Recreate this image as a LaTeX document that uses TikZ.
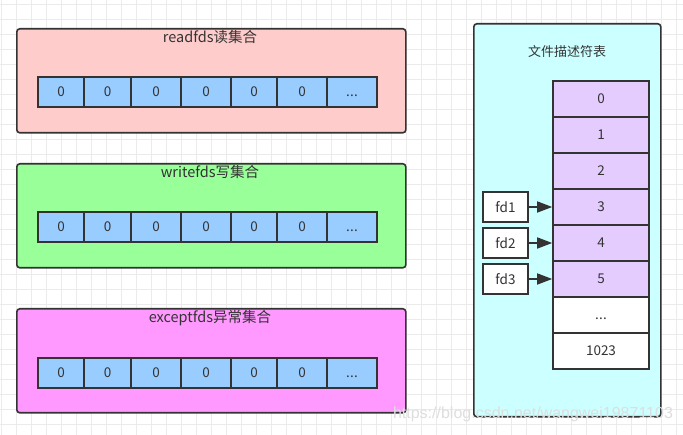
\documentclass[tikz,border=0pt]{standalone}
\usepackage{fontspec}
\setmainfont{Noto Sans CJK SC}
\newfontfamily\marquefont{Liberation Sans}
\usepackage{xcolor}
\usepackage{tikz}
\usetikzlibrary{arrows.meta, positioning}

\definecolor{trait}{HTML}{333333}
\definecolor{grille}{HTML}{EBEBEB}
\definecolor{rose}{HTML}{FFCCCC}
\definecolor{vert}{HTML}{99FF99}
\definecolor{magenta}{HTML}{FF99FF}
\definecolor{cyanpale}{HTML}{CCFFFF}
\definecolor{bleu}{HTML}{99CCFF}
\definecolor{mauve}{HTML}{E5CCFF}

\newcommand{\pts}{\vphantom{0}.\kern0.3pt.\kern0.3pt.}

\tikzset{
  groupe/.style={draw=trait, line width=1.6pt, rounded corners=3pt, inner sep=0pt},
  titre/.style={font=\fontsize{14.5}{16}\selectfont, text=trait},
  bit/.style={draw=trait, line width=1.6pt, fill=bleu, inner sep=0pt, minimum height=30pt},
  ligne/.style={draw=trait, line width=1.6pt, inner sep=0pt, minimum width=96pt, minimum height=36pt},
  fdbox/.style={draw=trait, line width=1.6pt, fill=white, inner sep=0pt, minimum width=45pt, minimum height=30pt},
  fleche/.style={draw=trait, line width=1.6pt, -{Triangle[length=15pt, width=11pt]}}
}

\begin{document}
\begin{tikzpicture}[x=1pt, y=-1pt, font=\fontsize{13.5}{15}\selectfont, text=trait]
    \useasboundingbox (0,0) rectangle (683,435);
    \fill[white] (0,0) rectangle (683,435);
    % Grille de fond
    \foreach \x in {1.7,16.7,...,683} {
      \draw[grille, line width=1pt] (\x,0) -- (\x,435);
    }
    \foreach \y in {5,20,...,435} {
      \draw[grille, line width=1pt] (0,\y) -- (683,\y);
    }
    % Les trois ensembles
    \foreach \n/\c/\yh/\yt/\yc/\t in {read/rose/28/37/92/readfds读集合,
                                      write/vert/163/172/227/writefds写集合,
                                      except/magenta/308/318/373/exceptfds异常集合} {
      \node[groupe, fill=\c, minimum width=389pt, minimum height=104pt, anchor=north west] (\n) at (16,\yh) {};
      \node[titre] (\n-titre) at (210,\yt) {\t};
      \foreach \xa/\xb/\v [count=\i] in {38/84/0, 84/131/0, 131/181/0, 181/231/0, 231/277/0, 277/327/0, 327/377/\pts} {
        \node[bit, minimum width={(\xb-\xa)*1pt}] (\n-\i) at ({(\xa+\xb)/2},\yc) {\v};
      }
    }
    % Table des descripteurs
    \node[groupe, fill=cyanpale, minimum width=187pt, minimum height=393pt, anchor=north west] (table) at (473,23) {};
    \node[titre, font=\fontsize{13}{15}\selectfont] (table-titre) at (567,52) {文件描述符表};
    \foreach \v/\c [count=\i from 0] in {0/mauve, 1/mauve, 2/mauve, 3/mauve, 4/mauve, 5/mauve, \pts/white, 1023/white} {
      \node[ligne, fill=\c] (t\i) at (601,{99+36*\i}) {\v};
    }
    % Descripteurs ouverts
    \foreach \i/\j in {1/3, 2/4, 3/5} {
      \node[fdbox] (fd\i) at (505.5,{171+36*\i}) {fd\i};
      \draw[fleche] (fd\i) -- (t\j);
    }
    % Filigrane
    \node[text=black!13, font=\marquefont\fontsize{16}{18}\selectfont] (marque) at (533,414) {https://blog.csdn.net/wangwei19871103};
  \end{tikzpicture}
\end{document}
